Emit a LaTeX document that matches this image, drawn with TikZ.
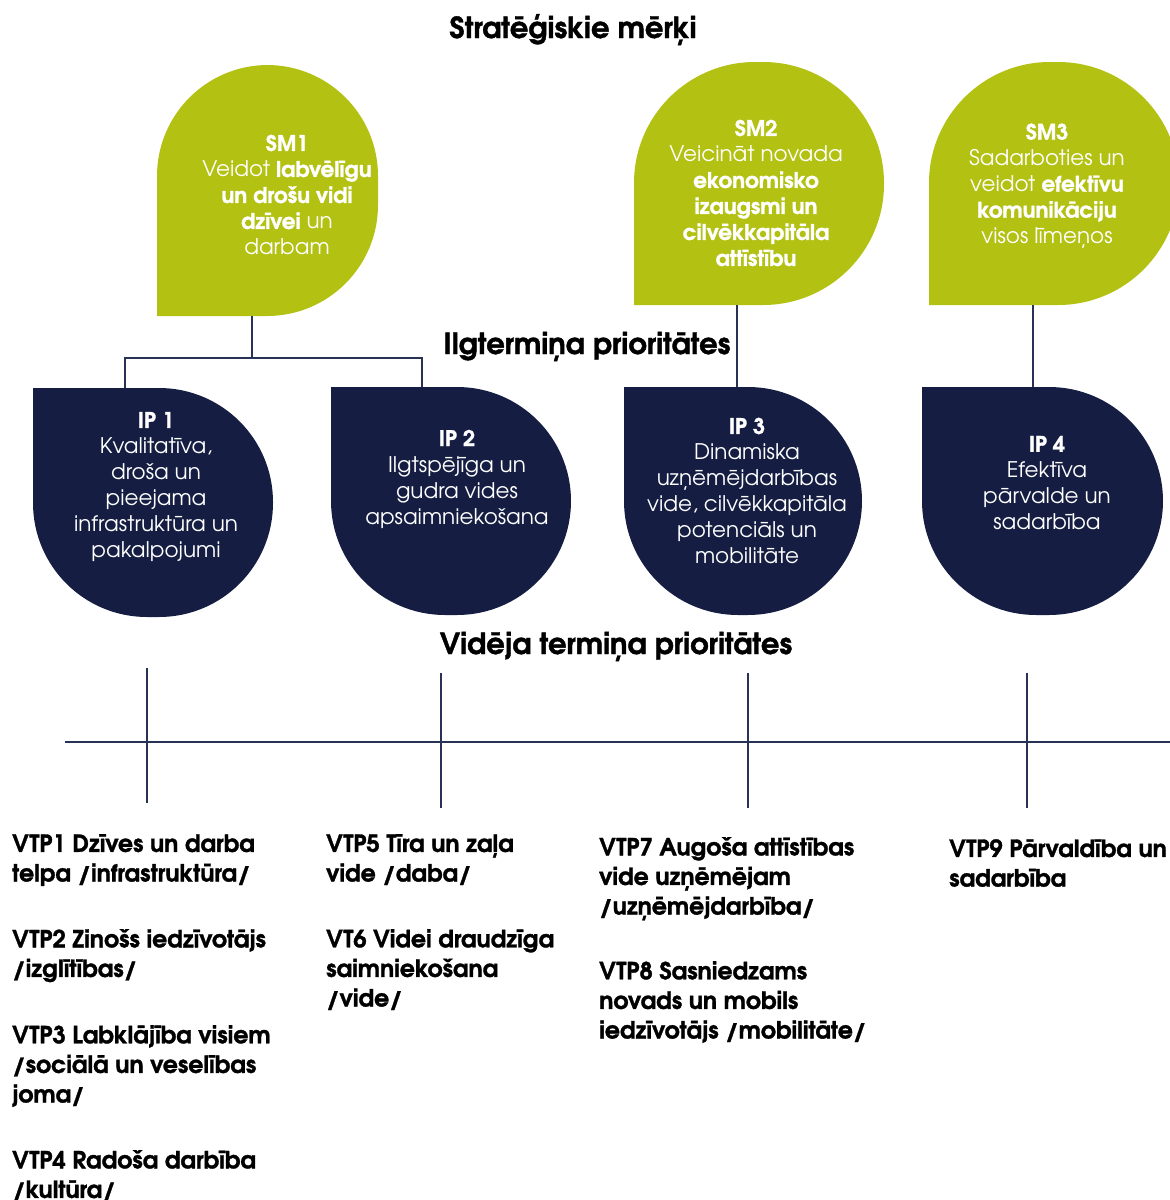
\documentclass[tikz,border=0pt]{standalone}
\usepackage{fontspec}
\setmainfont{TeX Gyre Adventor}[BoldFeatures={FakeBold=1.3}]
\definecolor{smgreen}{RGB}{178,193,18}
\definecolor{navy}{RGB}{21,30,66}
\definecolor{linecol}{RGB}{40,50,85}
\newcommand\SMblob[5]{%
  \fill[smgreen] (#1,-#4) -- (#1,{-(#2+#5)}) arc[start angle=180,end angle=90,radius=#5pt]
    -- ({#3-#5},-#2) arc[start angle=90,end angle=0,radius=#5pt]
    -- (#3,{-(#4-#5)}) arc[start angle=0,end angle=-90,radius=#5pt] -- cycle;}
\newcommand\IPblob[5]{%
  \fill[navy] (#1,-#2) -- ({#3-#5},-#2) arc[start angle=90,end angle=0,radius=#5pt]
    -- (#3,{-(#4-#5)}) arc[start angle=0,end angle=-90,radius=#5pt]
    -- ({#1+#5},-#4) arc[start angle=-90,end angle=-180,radius=#5pt] -- cycle;}
\begin{document}
\begin{tikzpicture}[x=1pt,y=1pt,
  title/.style={font=\bfseries\fontsize{29}{34}\selectfont, text=black, inner sep=0, anchor=base},
  blobtext/.style={font=\fontsize{21.5}{26}\selectfont, text=white, align=center, inner sep=0},
  vtp/.style={font=\bfseries\fontsize{23.6}{29.6}\selectfont, text=black, align=left, anchor=north west, inner sep=0},
  conn/.style={draw=linecol, line width=1.3pt}]
\useasboundingbox (0,0) rectangle (1170,-1200);
\begin{scope}
\clip (0,0) rectangle (1170,-1200);
\SMblob{157}{65}{378}{316}{111}
\SMblob{634}{62}{884}{305}{121}
\SMblob{929}{62}{1179}{305}{121}
\IPblob{33}{388}{273}{617}{114}
\IPblob{331}{387}{571}{615}{114}
\IPblob{624}{387}{862}{615}{114}
\IPblob{922}{387}{1163}{615}{114}
\end{scope}

% titles
\node[title] (t1) at (573,-38) {Stratēģiskie mērķi};
\node[title] (t2) at (587,-354) {Ilgtermiņa prioritātes};
\node[title] (t3) at (616,-654) {Vidēja termiņa prioritātes};

% SM texts
\node[blobtext] (sm1) at (287,-195) {\textbf{SM1}\\ Veidot \textbf{labvēlīgu}\\ \textbf{un drošu vidi}\\ \textbf{dzīvei} un\\ darbam};
\node[blobtext] (sm2) at (756,-193) {\textbf{SM2}\\ Veicināt novada\\ \textbf{ekonomisko}\\ \textbf{izaugsmi un}\\ \textbf{cilvēkkapitāla}\\ \textbf{attīstību}};
\node[blobtext] (sm3) at (1047,-186) {\textbf{SM3}\\ Sadarboties un\\ veidot \textbf{efektīvu}\\ \textbf{komunikāciju}\\ visos līmeņos};

% IP texts
\node[blobtext] (ip1) at (156,-487) {\textbf{IP 1}\\ Kvalitatīva,\\ droša un\\ pieejama\\ infrastruktūra un\\ pakalpojumi};
\node[blobtext] (ip2) at (457,-479) {\textbf{IP 2}\\ Ilgtspējīga un\\ gudra vides\\ apsaimniekošana};
\node[blobtext] (ip3) at (747,-491) {\textbf{IP 3}\\ Dinamiska\\ uzņēmējdarbības\\ vide, cilvēkkapitāla\\ potenciāls un\\ mobilitāte};
\node[blobtext] (ip4) at (1047,-483) {\textbf{IP 4}\\ Efektīva\\ pārvalde un\\ sadarbība};

% connector coordinates
\coordinate (sm1b) at (252,-316);
\coordinate (j1) at (252,-358);
\coordinate (ip1t) at (125,-388);
\coordinate (ip2t) at (422,-387);
\coordinate (sm2b) at (737,-305);
\coordinate (ip3t) at (737,-387);
\coordinate (sm3b) at (1033,-305);
\coordinate (ip4t) at (1033,-387);
\draw[conn] (sm1b) -- (j1);
\draw[conn] (ip1t) |- (j1) -| (ip2t);
\draw[conn] (sm2b) -- (ip3t);
\draw[conn] (sm3b) -- (ip4t);

% bottom axis
\coordinate (hl) at (65,-742);
\coordinate (hr) at (1170,-742);
\draw[conn] (hl) -- (hr);
\coordinate (v1a) at (147,-668); \coordinate (v1b) at (147,-803);
\coordinate (v2a) at (441,-673); \coordinate (v2b) at (441,-808);
\coordinate (v3a) at (748,-673); \coordinate (v3b) at (748,-808);
\coordinate (v4a) at (1027,-673); \coordinate (v4b) at (1027,-808);
\draw[conn] (v1a) -- (v1b);
\draw[conn] (v2a) -- (v2b);
\draw[conn] (v3a) -- (v3b);
\draw[conn] (v4a) -- (v4b);

% VTP texts
\node[vtp] (vtp1) at (12,-834) {VTP1 Dzīves un darba\\ telpa /infrastruktūra/};
\node[vtp] (vtp2) at (12,-929) {VTP2 Zinošs iedzīvotājs\\ /izglītības/};
\node[vtp] (vtp3) at (12,-1025) {VTP3 Labklājība visiem\\ /sociālā un veselības\\ joma/};
\node[vtp] (vtp4) at (12,-1150) {VTP4 Radoša darbība\\ /kultūra/};
\node[vtp] (vtp5) at (326,-834) {VTP5 Tīra un zaļa\\ vide /daba/};
\node[vtp] (vtp6) at (326,-929) {VT6 Videi draudzīga\\ saimniekošana\\ /vide/};
\node[vtp] (vtp7) at (599,-837) {VTP7 Augoša attīstības\\ vide uzņēmējam\\ /uzņēmējdarbība/};
\node[vtp] (vtp8) at (599,-961) {VTP8 Sasniedzams\\ novads un mobils\\ iedzīvotājs /mobilitāte/};
\node[vtp] (vtp9) at (949,-839) {VTP9 Pārvaldība un\\ sadarbība};
\end{tikzpicture}
\end{document}
